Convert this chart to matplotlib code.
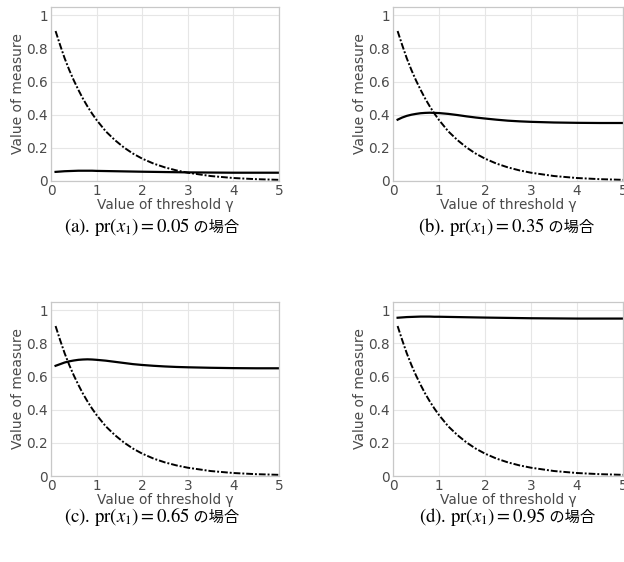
import numpy as np
import matplotlib
matplotlib.use('Agg')
import matplotlib.pyplot as plt

plt.rcParams['font.family'] = ['DejaVu Sans', 'Noto Sans CJK JP']
plt.rcParams['mathtext.fontset'] = 'stix'

# threshold values
gamma = [0.1, 0.2, 0.3, 0.4, 0.5, 0.6, 0.7, 0.8, 0.9, 1.0, 1.2, 1.4, 1.6, 1.8, 2.0,
         2.25, 2.5, 2.75, 3.0, 3.5, 4.0, 4.5, 5.0]

# dash-dot curve (same in all panels)
dashed = [0.905, 0.82, 0.74, 0.67, 0.607, 0.55, 0.497, 0.45, 0.407, 0.368, 0.30, 0.247,
          0.202, 0.165, 0.135, 0.105, 0.082, 0.064, 0.05, 0.03, 0.018, 0.011, 0.007]

# solid curves, one per pr(x1)
pr_vals = ['0.05', '0.35', '0.65', '0.95']
labels = ['(a)', '(b)', '(c)', '(d)']
solid = [
    [0.055, 0.057, 0.059, 0.060, 0.061, 0.062, 0.062, 0.062, 0.062, 0.061, 0.060, 0.059,
     0.058, 0.057, 0.056, 0.055, 0.054, 0.053, 0.052, 0.051, 0.050, 0.050, 0.050],
    [0.37, 0.383, 0.393, 0.40, 0.405, 0.409, 0.411, 0.412, 0.411, 0.41, 0.405, 0.398,
     0.39, 0.383, 0.377, 0.37, 0.364, 0.36, 0.357, 0.353, 0.351, 0.35, 0.35],
    [0.665, 0.675, 0.685, 0.692, 0.697, 0.701, 0.703, 0.704, 0.703, 0.701, 0.696, 0.689,
     0.682, 0.675, 0.670, 0.665, 0.661, 0.658, 0.656, 0.653, 0.651, 0.650, 0.650],
    [0.955, 0.957, 0.959, 0.960, 0.961, 0.962, 0.962, 0.962, 0.961, 0.961, 0.960, 0.959,
     0.958, 0.957, 0.956, 0.955, 0.954, 0.953, 0.952, 0.951, 0.950, 0.950, 0.950],
]

W, H = 624, 562
fig = plt.figure(figsize=(W / 100, H / 100), dpi=100)

# axes boxes in pixels: left, top, right, bottom
boxes = [(51, 7, 279, 181), (393, 7, 623, 181), (51, 302, 279, 476), (393, 302, 623, 476)]
cap_y = [227, 227, 517, 517]
cap_x = [152, 506, 152, 507]

grey = '#4a4a4a'
for i, (l, t, r, b) in enumerate(boxes):
    ax = fig.add_axes([l / W, (H - b) / H, (r - l) / W, (b - t) / H])
    ax.plot(gamma, dashed, color='black', lw=1.4, ls=(0, (3.5, 1, 1, 1)))
    ax.plot(gamma, solid[i], color='black', lw=1.6)
    ax.set_xlim(0, 5)
    ax.set_ylim(0, 1.05)
    ax.set_xticks([0, 1, 2, 3, 4, 5])
    ax.set_yticks([0, 0.2, 0.4, 0.6, 0.8, 1])
    ax.set_yticklabels(['0', '0.2', '0.4', '0.6', '0.8', '1'])
    ax.grid(True, color='#e6e6e6', lw=0.8)
    ax.set_axisbelow(True)
    for s in ax.spines.values():
        s.set_color('#c8c8c8')
        s.set_linewidth(0.9)
    ax.tick_params(length=0, labelsize=9.8, colors=grey, pad=2)
    ax.set_xlabel('Value of threshold γ', fontsize=9.8, color=grey, labelpad=0)
    ax.set_ylabel('Value of measure', fontsize=10, color=grey, labelpad=1)

    # caption: math part + japanese part
    t1 = fig.text(0, 1 - cap_y[i] / H, labels[i] + r'. $\mathrm{pr}(x_1) = ' + pr_vals[i] + '$',
                  fontsize=13.5, va='center', ha='left', family='STIXGeneral')
    t2 = fig.text(0, 1 - cap_y[i] / H, ' の場合', fontsize=11, va='center', ha='left',
                  family=['Noto Sans CJK JP'])
    fig.canvas.draw()
    r_ = fig.canvas.get_renderer()
    w1 = t1.get_window_extent(r_).width
    w2 = t2.get_window_extent(r_).width
    x0 = cap_x[i] - (w1 + w2) / 2
    t1.set_x(x0 / W)
    t2.set_x((x0 + w1) / W)

fig.savefig('out.png', dpi=100)
